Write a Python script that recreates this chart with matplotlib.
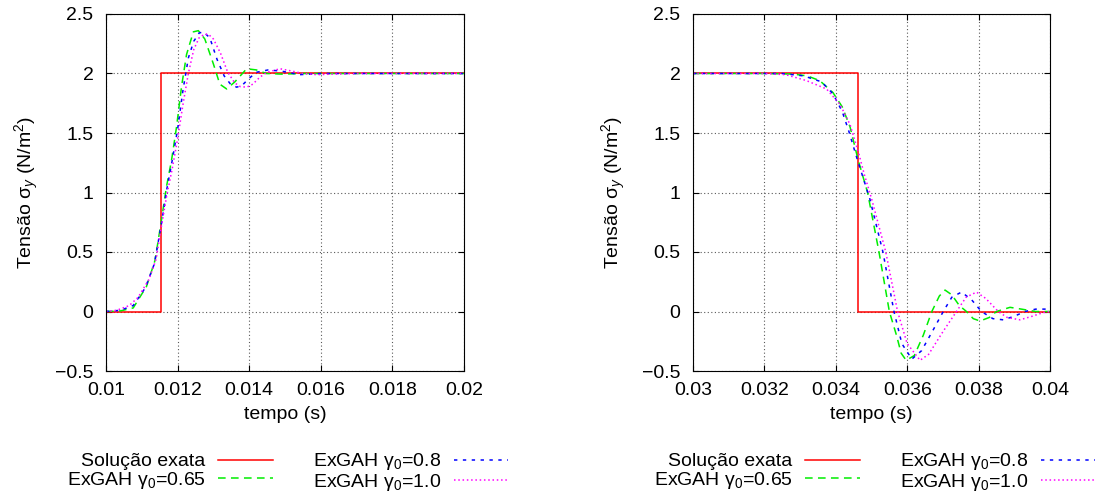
import numpy as np
import matplotlib
matplotlib.use("Agg")
import matplotlib.pyplot as plt
from matplotlib.ticker import FuncFormatter

plt.rcParams['font.family'] = ['Liberation Sans', 'DejaVu Sans']
plt.rcParams['font.size'] = 14
plt.rcParams['mathtext.fontset'] = 'custom'
plt.rcParams['mathtext.rm'] = 'Liberation Sans'
plt.rcParams['mathtext.it'] = 'Liberation Sans:italic'
plt.rcParams['mathtext.sf'] = 'Liberation Sans'

# -----------------------------------------------------------------
# Data (time in s, stress in N/m^2)
# -----------------------------------------------------------------
# left panel: loading step
exact_l_t = [0.0100, 0.01154, 0.01154, 0.0200]
exact_l_v = [0.0, 0.0, 2.0, 2.0]

g065_l_t = [0.0100, 0.0104, 0.01076, 0.01113, 0.01137, 0.01155, 0.01169, 0.01183,
            0.01197, 0.01211, 0.01225, 0.01244, 0.01258, 0.01276, 0.01300, 0.01318,
            0.01337, 0.0136, 0.01393, 0.0142, 0.01448, 0.0149, 0.0155, 0.0200]
g065_l_v = [0.0, 0.005, 0.03, 0.21, 0.43, 0.77, 1.05, 1.27,
            1.55, 1.89, 2.16, 2.35, 2.36, 2.29, 2.08, 1.91,
            1.87, 1.93, 2.04, 2.03, 2.0, 1.995, 2.0, 2.0]

g08_l_t = [0.0100, 0.0104, 0.01076, 0.0111, 0.01135, 0.01155, 0.0117, 0.01185,
           0.0120, 0.01215, 0.0123, 0.01245, 0.0126, 0.01272, 0.0129, 0.0131,
           0.0133, 0.01348, 0.01365, 0.0138, 0.0140, 0.0142, 0.01453, 0.0149,
           0.0154, 0.0160, 0.0200]
g08_l_v = [0.0, 0.01, 0.05, 0.2, 0.4, 0.74, 1.03, 1.27,
           1.53, 1.86, 2.13, 2.27, 2.34, 2.35, 2.3, 2.12,
           1.98, 1.91, 1.885, 1.9, 1.96, 2.01, 2.03, 2.02,
           1.99, 2.0, 2.0]

g10_l_t = [0.0100, 0.0103, 0.01065, 0.0109, 0.0112, 0.0114, 0.01155, 0.0117,
           0.01185, 0.0120, 0.01215, 0.0123, 0.01245, 0.0126, 0.01275, 0.01286,
           0.0130, 0.0132, 0.0134, 0.0136, 0.01375, 0.01393, 0.0141, 0.0143,
           0.0145, 0.01486, 0.0152, 0.0155, 0.0159, 0.0163, 0.0170, 0.0200]
g10_l_v = [0.0, 0.01, 0.05, 0.12, 0.27, 0.44, 0.72, 0.98,
           1.2, 1.45, 1.74, 2.0, 2.2, 2.3, 2.33, 2.33,
           2.29, 2.17, 2.01, 1.92, 1.89, 1.885, 1.91, 1.97,
           2.01, 2.04, 2.02, 2.0, 1.99, 1.995, 2.0, 2.0]

# right panel: unloading step
exact_r_t = [0.0300, 0.03462, 0.03462, 0.0400]
exact_r_v = [2.0, 2.0, 0.0, 0.0]

g065_r_t = [0.0300, 0.0320, 0.0328, 0.0332, 0.03355, 0.03392, 0.03418, 0.0344,
            0.03462, 0.03489, 0.03521, 0.0355, 0.0357, 0.03583, 0.03597, 0.0362,
            0.03645, 0.03669, 0.0369, 0.03706, 0.03725, 0.03746, 0.03766, 0.03785,
            0.03804, 0.0383, 0.0385, 0.03888, 0.0392, 0.0396, 0.0400]
g065_r_v = [2.0, 2.0, 1.995, 1.98, 1.94, 1.84, 1.72, 1.55,
            1.28, 1.0, 0.5, 0.0, -0.2, -0.35, -0.41, -0.37,
            -0.2, 0.0, 0.13, 0.18, 0.14, 0.05, 0.0, -0.06,
            -0.08, -0.05, 0.0, 0.035, 0.02, 0.0, 0.0]

g08_r_t = [0.0300, 0.0325, 0.0331, 0.0336, 0.03392, 0.03418, 0.03436, 0.0346,
           0.03495, 0.03532, 0.03563, 0.03585, 0.03613, 0.0364, 0.0367, 0.03701,
           0.03725, 0.03752, 0.0378, 0.03808, 0.0384, 0.03869, 0.0390, 0.0393,
           0.0396, 0.0400]
g08_r_v = [2.0, 2.0, 1.98, 1.93, 1.83, 1.68, 1.52, 1.28,
           0.95, 0.5, 0.0, -0.27, -0.40, -0.33, -0.17, 0.0,
           0.12, 0.163, 0.1, 0.0, -0.06, -0.07, -0.04, 0.0,
           0.02, 0.02]

g10_r_t = [0.0300, 0.0320, 0.0326, 0.03318, 0.03374, 0.03412, 0.0344, 0.03465,
           0.0348, 0.0350, 0.0354, 0.03573, 0.0360, 0.03636, 0.0366, 0.0370,
           0.03738, 0.03765, 0.03794, 0.0382, 0.03855, 0.0388, 0.03916, 0.0395,
           0.0398, 0.0400]
g10_r_v = [2.0, 2.0, 1.99, 1.94, 1.87, 1.74, 1.57, 1.32,
           1.15, 0.95, 0.5, 0.0, -0.27, -0.41, -0.36, -0.17,
           0.0, 0.12, 0.163, 0.11, 0.0, -0.05, -0.07, -0.04,
           -0.01, 0.0]

labels = ["Solução exata",
          r"ExGAH $\mathrm{\gamma}_0$=0.65",
          r"ExGAH $\mathrm{\gamma}_0$=0.8",
          r"ExGAH $\mathrm{\gamma}_0$=1.0"]
yticks = [-0.5, 0, 0.5, 1, 1.5, 2, 2.5]
xticks_l = [0.01, 0.012, 0.014, 0.016, 0.018, 0.02]
xticks_r = [0.03, 0.032, 0.034, 0.036, 0.038, 0.04]

# -----------------------------------------------------------------
# Plotting
# -----------------------------------------------------------------
fig = plt.figure(figsize=(10.99, 4.94), dpi=100)
W, H = 1099.0, 494.0
ax_l = fig.add_axes([106 / W, 123 / H, 358 / W, 357 / H])
ax_r = fig.add_axes([693 / W, 123 / H, 357 / W, 357 / H])

panels = [
    (ax_l, xticks_l, (exact_l_t, exact_l_v), (g065_l_t, g065_l_v),
     (g08_l_t, g08_l_v), (g10_l_t, g10_l_v)),
    (ax_r, xticks_r, (exact_r_t, exact_r_v), (g065_r_t, g065_r_v),
     (g08_r_t, g08_r_v), (g10_r_t, g10_r_v)),
]

for ax, xt, ex, s1, s2, s3 in panels:
    ax.plot(*ex, color="#ff0000", lw=1.1, label=labels[0])
    ax.plot(*s1, color="#00ee00", lw=1.1, dashes=(5, 3.5), label=labels[1])
    ax.plot(*s2, color="#0000ff", lw=1.1, dashes=(2.2, 3.6), label=labels[2])
    ax.plot(*s3, color="#ff00ff", lw=1.1, dashes=(1, 1.8), label=labels[3])

    ax.set_xlim(xt[0], xt[-1])
    ax.set_ylim(-0.5, 2.5)
    ax.set_xticks(xt)
    ax.set_yticks(yticks)
    ax.xaxis.set_major_formatter(FuncFormatter(lambda v, p: "%g" % v))
    ax.yaxis.set_major_formatter(FuncFormatter(lambda v, p: ("%g" % v).replace("-", "\u2212")))
    ax.tick_params(direction="in", top=True, right=True, length=4, width=0.8,
                   labelsize=14)
    ax.tick_params(axis="y", pad=9)
    ax.tick_params(axis="x", pad=8)
    ax.grid(True, color="0.35", linestyle=(0, (1, 2.2)), lw=0.8)
    for s in ax.spines.values():
        s.set_linewidth(0.8)

    ax.set_xlabel("tempo (s)", labelpad=5)
    ax.set_ylabel(r"Tensão $\mathrm{\sigma}_y$ (N/m$^2$)", labelpad=10)

    # two-column key under each panel, labels right-aligned before the lines
    cx = (ax.get_position().x0 * W - 106 + 287.5) / W
    ax.legend(ncol=2, markerfirst=False, frameon=False, loc="center",
              bbox_to_anchor=(cx, 22 / H), bbox_transform=fig.transFigure,
              handlelength=2.8, handletextpad=0.67, columnspacing=2.05,
              labelspacing=-0.05, borderpad=0, fontsize=14)

fig.savefig("out.png", dpi=100)
